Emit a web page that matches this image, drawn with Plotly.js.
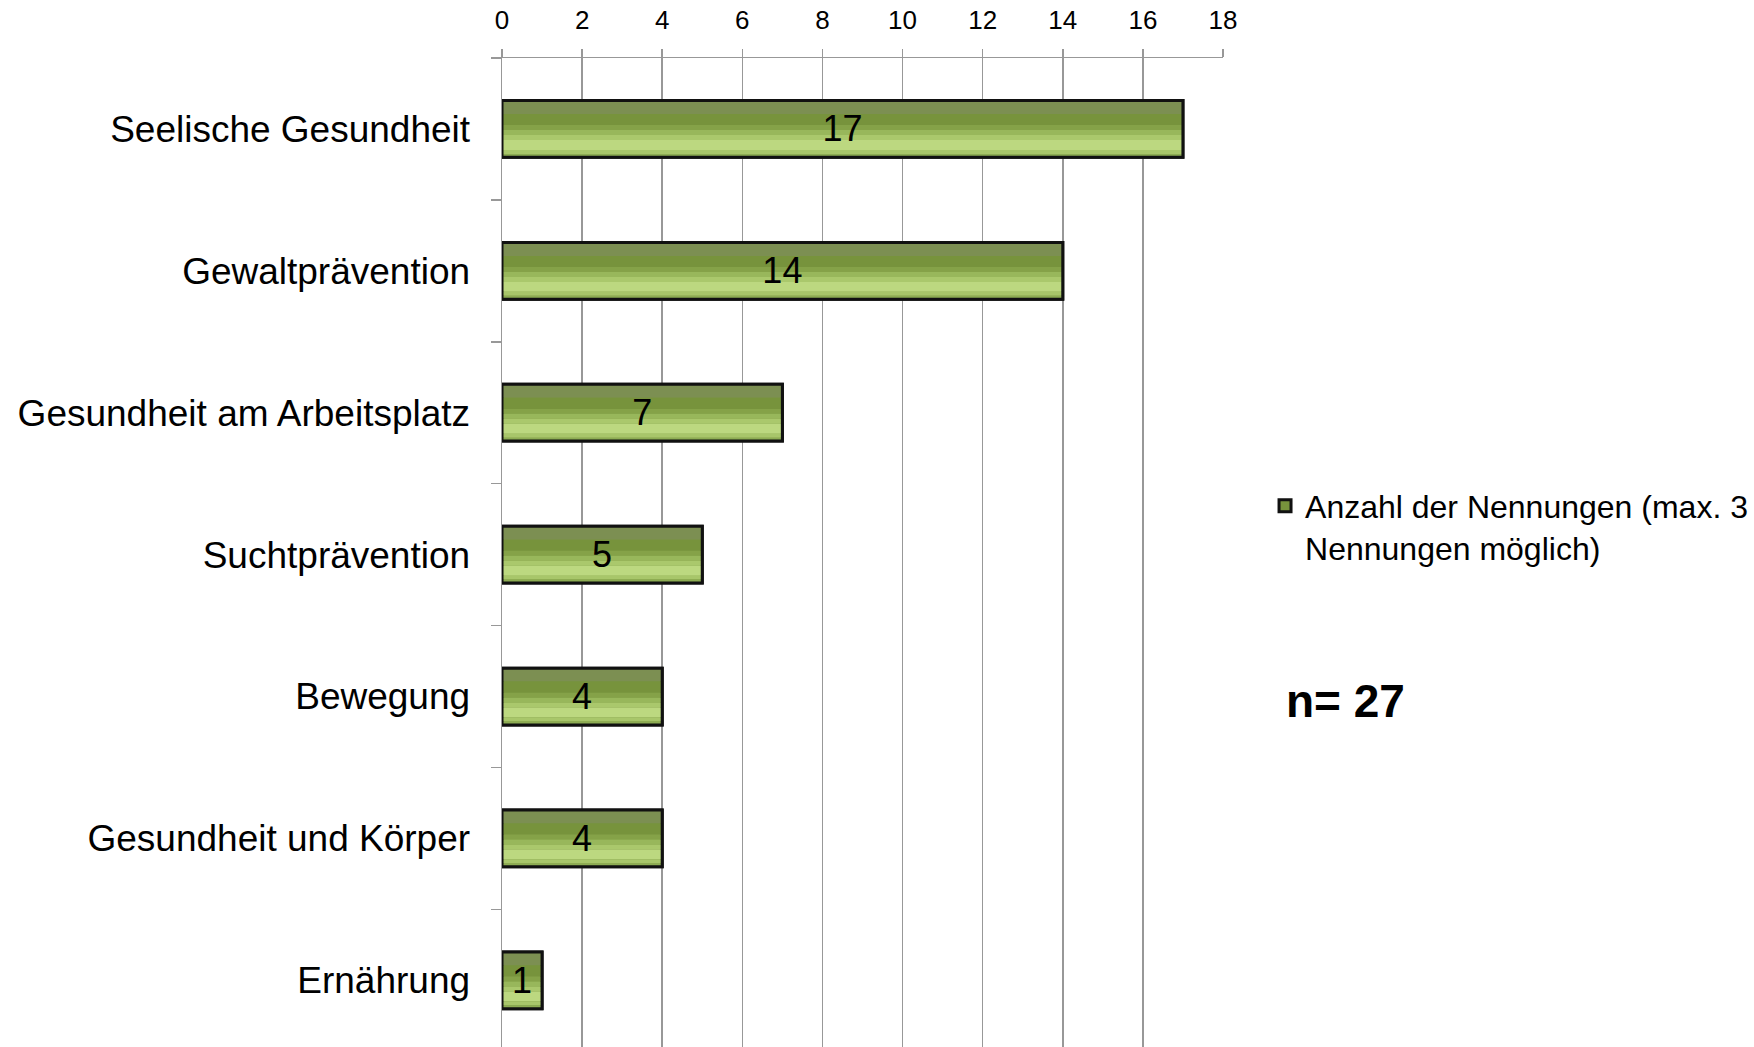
<!DOCTYPE html>
<html>
<head>
<meta charset="utf-8">
<script src="https://cdn.plot.ly/plotly-3.0.1.min.js"></script>
<style>
  html, body { margin: 0; padding: 0; background: #ffffff; overflow: hidden; }
  #chart { width: 1754px; height: 1047px; }
</style>
</head>
<body>
<div id="chart"></div>
<script>
// ---- data ----
const categories = [
  'Seelische Gesundheit',
  'Gewaltprävention',
  'Gesundheit am Arbeitsplatz',
  'Suchtprävention',
  'Bewegung',
  'Gesundheit und Körper',
  'Ernährung'
];
const values = [17, 14, 7, 5, 4, 4, 1];
const seriesName = 'Anzahl der Nennungen (max. 3<br>Nennungen möglich)';
const xTickVals = [0, 2, 4, 6, 8, 10, 12, 14, 16, 18];
const noteText = '<b>n= 27</b>';

// ---- style ----
const FONT = 'Liberation Sans, Arial, sans-serif';
const BAR_W = 0.40;
const BAR_OFF = -0.20;
const GRID = '#989898';

// shading bands inside each bar (offset, width in category units, colour)
const bands = [
  { off: -0.200, w: 0.095, color: '#7C8F52' },
  { off: -0.105, w: 0.078, color: '#77933C' },
  { off: -0.027, w: 0.035, color: '#85A248' },
  { off: 0.008, w: 0.035, color: '#98B75B' },
  { off: 0.043, w: 0.035, color: '#AAC86C' },
  { off: 0.078, w: 0.070, color: '#BCD880' },
  { off: 0.148, w: 0.028, color: '#A8C66A' },
  { off: 0.176, w: 0.024, color: '#8DAC53' }
];

const traces = [];

// base bar (legend entry)
traces.push({
  type: 'bar',
  orientation: 'h',
  x: values,
  y: categories,
  name: seriesName,
  width: BAR_W,
  offset: BAR_OFF,
  marker: { color: '#77933C', line: { color: '#111111', width: 3 } },
  hoverinfo: 'x+y',
  showlegend: true
});

bands.forEach(b => {
  traces.push({
    type: 'bar',
    orientation: 'h',
    x: values,
    y: categories,
    width: b.w,
    offset: b.off,
    marker: { color: b.color, line: { width: 0 } },
    hoverinfo: 'skip',
    showlegend: false
  });
});

// outline + labels on top
traces.push({
  type: 'bar',
  orientation: 'h',
  x: values,
  y: categories,
  width: BAR_W,
  offset: BAR_OFF,
  marker: { color: 'rgba(0,0,0,0)', line: { color: '#111111', width: 3 } },
  text: values.map(String),
  textposition: 'inside',
  insidetextanchor: 'middle',
  textangle: 0,
  constraintext: 'none',
  insidetextfont: { family: FONT, size: 36, color: '#000000' },
  hoverinfo: 'skip',
  showlegend: false
});

const layout = {
  width: 1754,
  height: 1047,
  margin: { l: 502, r: 531, t: 58, b: 0, pad: 0 },
  paper_bgcolor: '#ffffff',
  plot_bgcolor: '#ffffff',
  barmode: 'overlay',
  font: { family: FONT, color: '#000000' },
  xaxis: {
    side: 'top',
    range: [0, 18],
    tickvals: xTickVals,
    ticktext: xTickVals.map(String),
    showgrid: true,
    gridcolor: GRID,
    gridwidth: 1.5,
    zeroline: false,
    showline: true,
    linecolor: GRID,
    linewidth: 1.5,
    ticks: 'outside',
    ticklen: 8,
    tickwidth: 1.5,
    tickcolor: GRID,
    ticklabelstandoff: 9,
    tickfont: { family: FONT, size: 26, color: '#000000' },
    fixedrange: true
  },
  yaxis: {
    type: 'category',
    categoryorder: 'array',
    categoryarray: categories,
    range: [6.47, -0.5],
    showgrid: false,
    zeroline: false,
    showline: true,
    linecolor: GRID,
    linewidth: 1.5,
    ticks: 'outside',
    tickson: 'boundaries',
    ticklen: 10,
    tickwidth: 1.5,
    tickcolor: GRID,
    ticklabelstandoff: 23,
    tickfont: { family: FONT, size: 37, color: '#000000' },
    fixedrange: true
  },
  showlegend: true,
  legend: {
    x: 1.0583,
    xanchor: 'left',
    y: 0.575,
    yanchor: 'top',
    valign: 'top',
    bgcolor: 'rgba(0,0,0,0)',
    borderwidth: 0,
    font: { family: FONT, size: 32, color: '#000000' },
    itemwidth: 30
  },
  annotations: [{
    xref: 'paper', yref: 'paper',
    x: 1.0846, y: 0.3498,
    xanchor: 'left', yanchor: 'middle',
    text: noteText,
    showarrow: false,
    font: { family: FONT, size: 46, color: '#000000' }
  }]
};

Plotly.newPlot('chart', traces, layout, { displayModeBar: false, staticPlot: true });
</script>
</body>
</html>
